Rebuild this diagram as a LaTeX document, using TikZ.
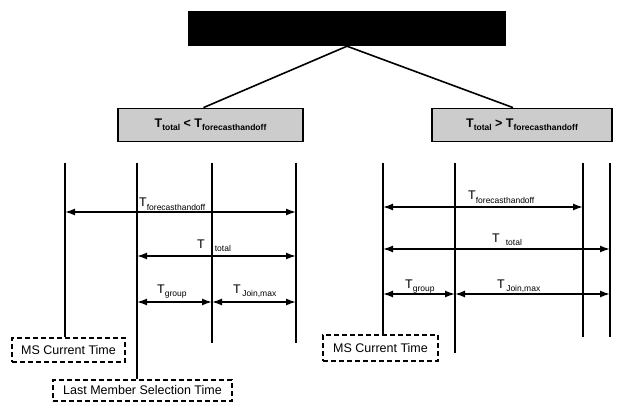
\documentclass[tikz,border=0pt]{standalone}
\usepackage{fontspec}
\setmainfont{Liberation Sans}
\usetikzlibrary{arrows.meta}
\newcommand\lsub[1]{\raisebox{-3pt}{\fontsize{8.5}{9}\selectfont #1}}
\tikzset{
  tl/.style={line width=1.2pt},
  dim/.style={line width=1.5pt, {Latex[length=10pt,width=7pt]}-{Latex[length=10pt,width=7pt]}},
  cond/.style={draw, line width=1.8pt, fill=black!20, inner sep=0pt, minimum height=33pt,
    font=\bfseries\fontsize{12.5}{12.5}\selectfont},
  dbox/.style={draw, dash pattern=on 5pt off 3pt, line width=1.5pt, inner sep=0pt,
    font=\fontsize{12.5}{14}\selectfont},
  lab/.style={font=\fontsize{12.5}{12.5}\selectfont, inner sep=0pt, anchor=base west},
  tree/.style={line width=1.6pt}
}
\begin{document}
\begin{tikzpicture}[x=1pt,y=-1pt]
\useasboundingbox (0,0) rectangle (617,403);
% top box and condition boxes
\node[fill=black, minimum width=318pt, minimum height=35pt, inner sep=0pt] (top) at (347,28.5) {};
\node[cond, minimum width=185pt] (condL) at (210.5,125) {T\lsub{total} < T\lsub{forecasthandoff}};
\node[cond, minimum width=180pt] (condR) at (522,125) {T\lsub{total} > T\lsub{forecasthandoff}};
\draw[tree] (top.south) -- ([xshift=-7pt]condL.north);
\draw[tree] (top.south) -- ([xshift=-9pt]condR.north);
% dashed boxes
\node[dbox, minimum width=113pt, minimum height=24pt] (msL) at (68.5,350) {MS Current Time};
\node[dbox, minimum width=179pt, minimum height=21pt] (lastL) at (142.5,390.5) {Last Member Selection Time};
\node[dbox, minimum width=115pt, minimum height=26pt] (msR) at (380.5,348) {MS Current Time};
% left timeline
\coordinate (L1) at (65,163);
\coordinate (L2) at (137,163);
\coordinate (L3) at (212,163);
\coordinate (L4) at (296,163);
\coordinate (L3e) at (212,343);
\coordinate (L4e) at (296,343);
\draw[tl] (L1) -- (L1 |- msL.north);
\draw[tl] (L2) -- (L2 |- lastL.north);
\draw[tl] (L3) -- (L3e);
\draw[tl] (L4) -- (L4e);
\coordinate (fL) at (0,212);
\coordinate (tL) at (0,256);
\coordinate (gL) at (0,302);
\draw[dim] (L1 |- fL) -- (L4 |- fL);
\draw[dim] (L2 |- tL) -- (L4 |- tL);
\draw[dim] (L2 |- gL) -- (L3 |- gL);
\draw[dim] (L3 |- gL) -- (L4 |- gL);
\node[lab] (lf1) at (139,207) {T\lsub{forecasthandoff}};
\node[lab] (lt1) at (197,248) {T\hspace{10pt}\lsub{total}};
\node[lab] (lg1) at (157,293) {T\lsub{group}};
\node[lab] (lj1) at (233,293) {T\lsub{\,Join,max}};
% right timeline
\coordinate (R1) at (383,163);
\coordinate (R2) at (455,163);
\coordinate (R3) at (583,163);
\coordinate (R4) at (610,163);
\coordinate (R2e) at (455,353);
\coordinate (R3e) at (583,337);
\coordinate (R4e) at (610,337);
\draw[tl] (R1) -- (R1 |- msR.north);
\draw[tl] (R2) -- (R2e);
\draw[tl] (R3) -- (R3e);
\draw[tl] (R4) -- (R4e);
\coordinate (fR) at (0,207);
\coordinate (tR) at (0,249);
\coordinate (gR) at (0,294);
\draw[dim] (R1 |- fR) -- (R3 |- fR);
\draw[dim] (R1 |- tR) -- (R4 |- tR);
\draw[dim] (R1 |- gR) -- (R2 |- gR);
\draw[dim] (R2 |- gR) -- (R4 |- gR);
\node[lab] (lf2) at (468,200) {T\lsub{forecasthandoff}};
\node[lab] (lt2) at (492,242) {T\hspace{6pt}\lsub{total}};
\node[lab] (lg2) at (405,288) {T\lsub{group}};
\node[lab] (lj2) at (497,288) {T\lsub{\,Join,max}};
\end{tikzpicture}
\end{document}
